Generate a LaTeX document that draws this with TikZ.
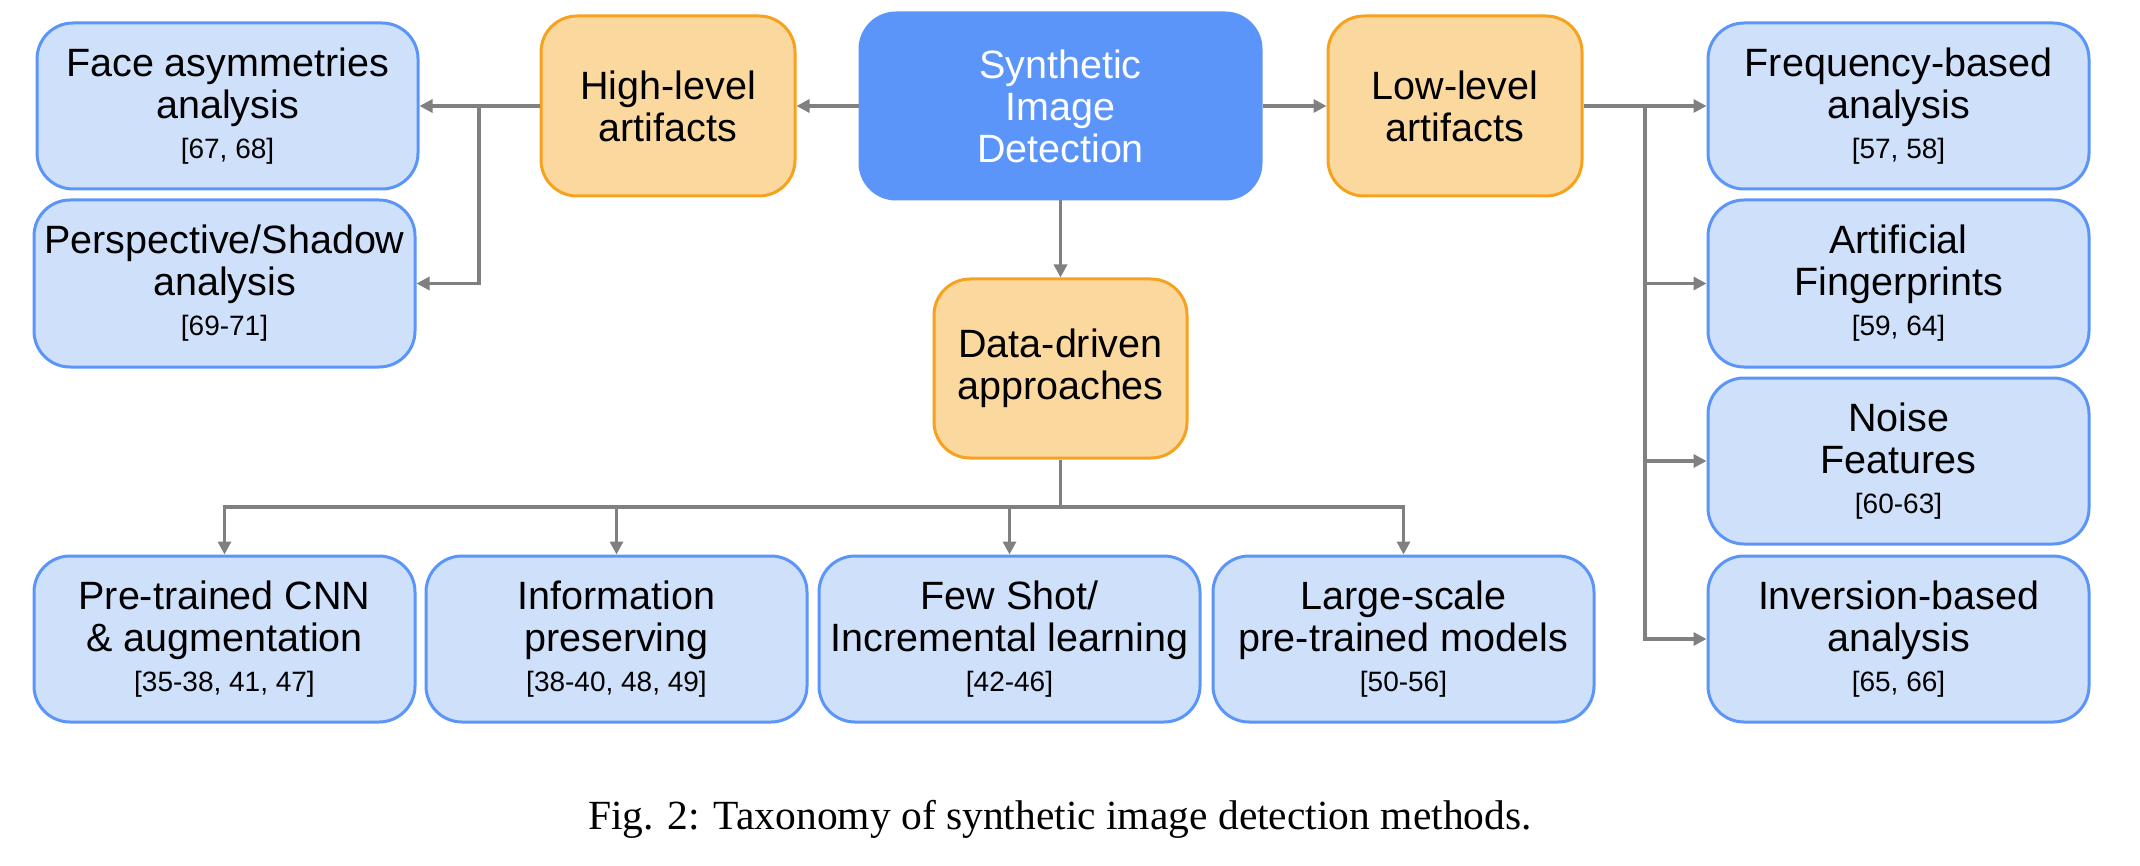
\documentclass[tikz,border=0pt]{standalone}
\usepackage{fontspec}
\setmainfont{Liberation Sans}
\newfontfamily\capfont{Liberation Serif}
\usetikzlibrary{arrows.meta}
\definecolor{lbfill}{HTML}{CFE0FA}
\definecolor{lbdraw}{HTML}{5B95F9}
\definecolor{synfill}{HTML}{5B95F9}
\definecolor{orfill}{HTML}{FBD89E}
\definecolor{ordraw}{HTML}{F7A21E}
\definecolor{arrgray}{HTML}{808080}
\newcommand{\refs}[1]{{\fontsize{28}{40}\selectfont #1}}
\tikzset{
  basebox/.style={rounded corners=36pt, line width=3pt, align=center, inner sep=0pt,
    font=\fontsize{39.5}{42}\selectfont},
  leafbox/.style={basebox, draw=lbdraw, fill=lbfill, minimum width=381pt, minimum height=166pt},
  midbox/.style={basebox, draw=ordraw, fill=orfill, minimum width=254pt, minimum height=180pt},
  rootbox/.style={basebox, draw=synfill, fill=synfill, text=white, minimum width=401pt, minimum height=186pt},
  conn/.style={draw=arrgray, line width=3.5pt},
  arr/.style={conn, -{Triangle[length=13pt,width=13pt]}},
}
\begin{document}
\begin{tikzpicture}[x=1pt,y=-1pt]
\useasboundingbox (0,0) rectangle (2140,866);
% root
\node[rootbox] (syn) at (1060.5,106) {Synthetic\\Image\\Detection};
% mid level
\node[midbox] (high) at (668,106) {High-level\\artifacts};
\node[midbox] (low) at (1455,106) {Low-level\\artifacts};
\node[midbox, minimum width=253pt, minimum height=179pt] (data) at (1060.5,368.5) {Data-driven\\approaches};
% left leaves
\node[leafbox] (face) at (227.5,106) {Face asymmetries\\analysis\\[-2pt]\refs{[67, 68]}};
\node[leafbox, minimum height=167pt] (persp) at (224.5,283.5) {Perspective/Shadow\\analysis\\[-2pt]\refs{[69-71]}};
% right leaves
\node[leafbox] (freq) at (1898.5,106) {Frequency-based\\analysis\\[-2pt]\refs{[57, 58]}};
\node[leafbox, minimum height=167pt] (art) at (1898.5,283.5) {Artificial\\Fingerprints\\[-2pt]\refs{[59, 64]}};
\node[leafbox] (noise) at (1898.5,461) {Noise\\Features\\[-2pt]\refs{[60-63]}};
\node[leafbox] (inv) at (1898.5,639) {Inversion-based\\analysis\\[-2pt]\refs{[65, 66]}};
% bottom leaves
\node[leafbox] (b1) at (224.5,639) {Pre-trained CNN\\\& augmentation\\[-2pt]\refs{[35-38, 41, 47]}};
\node[leafbox] (b2) at (616.5,639) {Information\\preserving\\[-2pt]\refs{[38-40, 48, 49]}};
\node[leafbox] (b3) at (1009.5,639) {Few Shot/\\Incremental learning\\[-2pt]\refs{[42-46]}};
\node[leafbox] (b4) at (1403.5,639) {Large-scale\\pre-trained models\\[-2pt]\refs{[50-56]}};
% connectors
\draw[arr] (syn.west) -- (high.east);
\draw[arr] (syn.east) -- (low.west);
\draw[arr] (syn.south) -- (data.north);
\coordinate (hb) at (479,106);
\draw[arr] (high.west) -- (face.east);
\draw[arr] (hb) |- (persp.east);
\coordinate (lb) at (1645,106);
\draw[arr] (low.east) -- (freq.west);
\draw[arr] (lb) |- (art.west);
\draw[arr] (lb) |- (noise.west);
\draw[arr] (lb) |- (inv.west);
\coordinate (db) at (1060.5,507);
\draw[conn] (data.south) -- (db);
\draw[arr] (db) -| (b1.north);
\draw[arr] (db) -| (b2.north);
\draw[arr] (db) -| (b3.north);
\draw[arr] (db) -| (b4.north);
% caption
\node[anchor=base, inner sep=0pt, font=\capfont\fontsize{41.5}{48}\selectfont] (cap) at (1060,829) {Fig. 2: Taxonomy of synthetic image detection methods.};
\end{tikzpicture}
\end{document}
